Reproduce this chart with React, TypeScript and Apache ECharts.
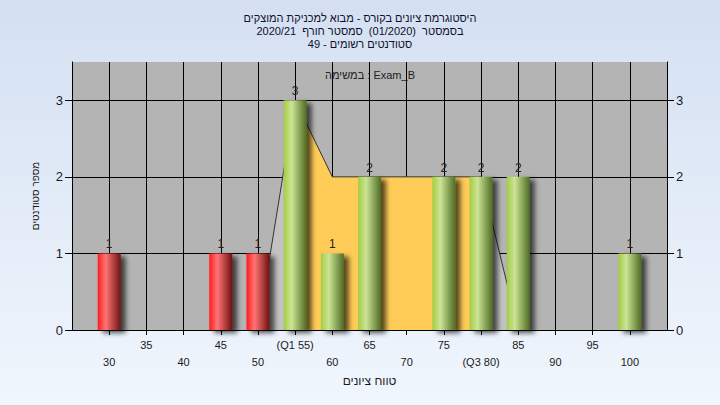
import React, { useEffect, useRef } from "react";
import * as echarts from "echarts";

// ---- data ----
const titleLines = [
  "היסטוגרמת ציונים בקורס - מבוא למכניקת המוצקים",
  "בסמסטר  (01/2020)  סמסטר חורף  2020/21",
  "סטודנטים רשומים - 49",
];
const examLabel = "במשימה : Exam_B";
const xAxisName = "טווח ציונים";
const yAxisName = "מספר סטודנטים";

const gradeBins = [30, 45, 50, 55, 60, 65, 75, 80, 85, 100];
const studentCounts = [1, 1, 1, 3, 1, 2, 2, 2, 2, 1];
const passGrade = 55;
const q1 = 55;
const q3 = 80;
const curveGrades = [50, 55, 60, 65, 70, 75, 80, 85];
const curveCounts = [0, 3, 2, 2, 2, 2, 2, 0];
const specialTickLabels: Record<number, string> = { 55: "(Q1 55)", 80: "(Q3 80)" };
const xMin = 25;
const xMax = 105;
const yMax = 3.5;

const FONT = "Liberation Sans, DejaVu Sans, sans-serif";
const rtl = (s: string) => "\u202B" + s + "\u202C";

export default function App() {
  const ref = useRef<HTMLDivElement>(null);
  useEffect(() => {
    document.body.style.margin = "0";
    const chart = echarts.init(ref.current!, null, { renderer: "svg" });

    const red = new echarts.graphic.LinearGradient(0, 0, 1, 0, [
      { offset: 0, color: "#ff1c1c" },
      { offset: 0.35, color: "#ff7474" },
      { offset: 1, color: "#701212" },
    ]);
    const green = new echarts.graphic.LinearGradient(0, 0, 1, 0, [
      { offset: 0, color: "#a4cc44" },
      { offset: 0.35, color: "#cce496" },
      { offset: 1, color: "#4e6c22" },
    ]);

    const curve = curveGrades.map((g, i) => [g, curveCounts[i]]);
    const leftPart = curve.filter((p) => p[0] <= q1);
    const midPart = curve.filter((p) => p[0] >= q1 && p[0] <= q3);
    const rightPart = curve.filter((p) => p[0] >= q3);
    const areaSeries = (data: number[][], color: string) => ({
      type: "line",
      data,
      z: 1,
      symbol: "none",
      silent: true,
      lineStyle: { color: "#333", width: 1 },
      areaStyle: { color, opacity: 1 },
    });

    chart.setOption({
      animation: false,
      backgroundColor: new echarts.graphic.LinearGradient(0, 0, 0, 1, [
        { offset: 0, color: "#d4e0f2" },
        { offset: 1, color: "#f0f6fd" },
      ]),
      title: {
        text: titleLines.map(rtl).join("\n"),
        left: "center",
        top: 6,
        textStyle: {
          fontFamily: FONT,
          fontSize: 11,
          fontWeight: "normal",
          color: "#10102a",
          lineHeight: 13,
        },
      },
      graphic: [
        {
          type: "text",
          left: 325,
          top: 69,
          z: 10,
          style: {
            text: examLabel,
            fontFamily: FONT,
            fontSize: 11,
            fill: "#222",
          },
        },
      ],
      grid: {
        left: 72,
        right: 53,
        top: 62,
        bottom: 75,
        show: true,
        backgroundColor: "#b4b4b4",
        borderWidth: 0,
      },
      xAxis: {
        type: "value",
        min: xMin,
        max: xMax,
        interval: 5,
        name: xAxisName,
        nameLocation: "middle",
        nameGap: 44,
        nameTextStyle: { fontFamily: FONT, fontSize: 12, color: "#1a1a1a" },
        axisLine: { lineStyle: { color: "#000", width: 1 } },
        axisTick: { length: 5, lineStyle: { color: "#000" } },
        splitLine: { show: true, lineStyle: { color: "#000", width: 1 } },
        axisLabel: {
          margin: 6,
          fontFamily: FONT,
          fontSize: 11,
          color: "#1a1a1a",
          lineHeight: 17,
          showMinLabel: false,
          showMaxLabel: false,
          formatter: (v: number) => {
            if (v <= xMin || v >= xMax) return "";
            const t = specialTickLabels[v] ?? String(v);
            return v % 10 === 0 ? "\n" + t : t;
          },
        },
      },
      yAxis: [
        {
          type: "value",
          min: 0,
          max: yMax,
          interval: 1,
          name: yAxisName,
          nameLocation: "middle",
          nameRotate: 90,
          nameGap: 32,
          nameTextStyle: { fontFamily: FONT, fontSize: 10, color: "#1a1a1a" },
          axisLine: { show: true, lineStyle: { color: "#000", width: 1 } },
          axisTick: { show: true, length: 7, lineStyle: { color: "#000" } },
          splitLine: {
            show: true,
            showMaxLine: false,
            lineStyle: { color: "#000", width: 1 },
          },
          axisLabel: {
            margin: 9,
            fontFamily: FONT,
            fontSize: 13,
            color: "#1a1a1a",
            showMaxLabel: false,
            formatter: (v: number) => (Number.isInteger(v) ? String(v) : ""),
          },
        },
        {
          type: "value",
          position: "right",
          min: 0,
          max: yMax,
          interval: 1,
          axisLine: { show: true, lineStyle: { color: "#000", width: 1 } },
          axisTick: { show: true, length: 7, lineStyle: { color: "#000" } },
          splitLine: { show: false },
          axisLabel: {
            margin: 9,
            fontFamily: FONT,
            fontSize: 13,
            color: "#1a1a1a",
            showMaxLabel: false,
            formatter: (v: number) => (Number.isInteger(v) ? String(v) : ""),
          },
        },
      ],
      series: [
        areaSeries(leftPart, "#c2c2c2"),
        areaSeries(midPart, "#ffcc58"),
        areaSeries(rightPart, "#c2c2c2"),
        {
          type: "bar",
          z: 3,
          barWidth: 23,
          data: gradeBins.map((g, i) => ({
            value: [g, studentCounts[i]],
            itemStyle: { color: g < passGrade ? red : green },
          })),
          itemStyle: {
            shadowColor: "rgba(0,0,0,0.65)",
            shadowBlur: 5,
            shadowOffsetX: 5,
            shadowOffsetY: 3,
          },
          label: {
            show: true,
            position: "top",
            distance: 3,
            fontFamily: FONT,
            fontSize: 12,
            color: "#222",
            formatter: (p: any) => String(p.value[1]),
          },
        },
      ],
    });
    return () => chart.dispose();
  }, []);
  return (
    <div
      ref={ref}
      style={{ position: "fixed", left: 0, top: 0, width: 720, height: 405 }}
    />
  );
}
